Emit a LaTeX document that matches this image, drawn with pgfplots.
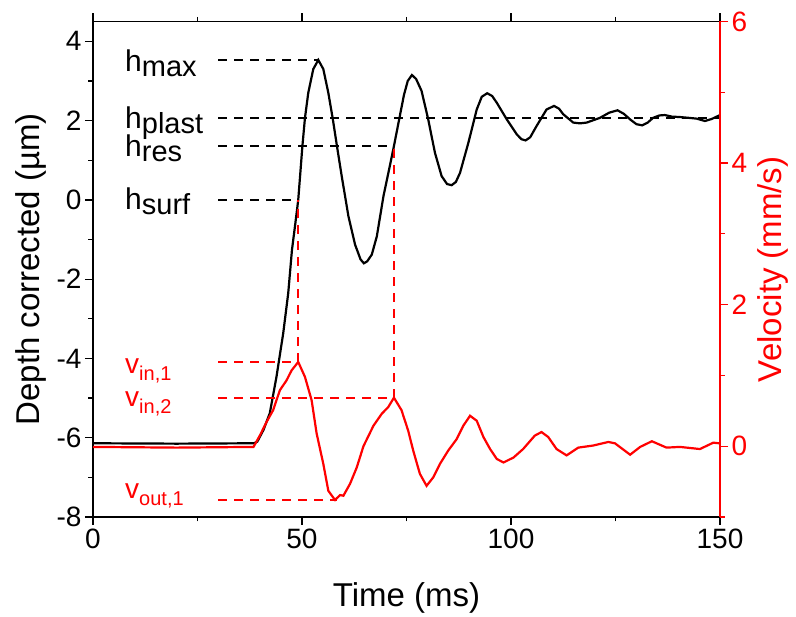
\documentclass[border=0pt]{standalone}
\usepackage{fontspec}
\setmainfont{Liberation Sans}
\usepackage{pgfplots}
\pgfplotsset{compat=1.18}

\newcommand{\hlab}[2]{\fontsize{30}{30}\selectfont h\raisebox{-5pt}{\fontsize{29}{29}\selectfont #2}}
\newcommand{\vlab}[1]{\fontsize{28}{28}\selectfont v\raisebox{-7pt}{\fontsize{20}{20}\selectfont #1}}

\pgfplotsset{
  common/.style={
    scale only axis, width=627pt, height=495.5pt,
    at={(0,0)}, anchor=south west,
    xmin=0, xmax=150,
    tick align=outside,
    major tick length=8pt, minor tick length=4.5pt,
    every tick/.style={line width=1.3pt},
    tick label style={font=\fontsize{28}{28}\selectfont},
    label style={font=\fontsize{33}{33}\selectfont},
    axis line style={line width=1.4pt},
  },
  hdash/.style={black, line width=2pt, dash pattern=on 9pt off 7pt},
  vdash/.style={red, line width=2pt, dash pattern=on 9pt off 7pt},
}

\begin{document}
\begin{tikzpicture}
\begin{axis}[common, name=ax,
  ymin=-8, ymax=4.5,
  xtick pos=both, ytick pos=left,
  xtick={0,50,100,150}, xticklabels={0,50,100,150},
  minor xtick={25,75,125},
  ytick={-8,-6,-4,-2,0,2,4}, yticklabels={-8,-6,-4,-2,0,2,4},
  minor ytick={-7,-5,-3,-1,1,3},
  xlabel={Time (ms)},
  xlabel style={at={(rel axis cs:0.5,0)}, anchor=base, yshift=-90pt},
  ylabel={Depth corrected (µm)},
  ylabel style={at={(rel axis cs:0,0.5)}, anchor=center, yshift=62pt},
]
% depth
\addplot[black, line width=2.2pt, mark=none] coordinates {
(0,-6.14) (20,-6.15) (38.5,-6.14) (39.3,-6.1) (40.8,-5.8) (42.3,-5.38) (43.9,-4.46)
(45.5,-3.37) (46.7,-2.36) (47.6,-1.26) (48.4,-0.6) (49.1,0) (50.1,1.36) (50.7,2.06)
(51.5,2.7) (52.7,3.3) (53.9,3.53) (55.1,3.3) (56.3,2.7) (57.4,2.02) (58.3,1.4)
(59.5,0.6) (61.1,-0.41) (62.7,-1.13) (64.0,-1.5) (64.8,-1.6) (65.6,-1.55) (66.7,-1.38)
(67.9,-0.92) (69.5,0.1) (71,0.85) (72,1.36) (73.3,2.06) (74.4,2.65) (75.3,3.0)
(76.3,3.15) (77.3,3.05) (78.6,2.75) (80.2,2.03) (81.8,1.19) (83.4,0.6) (84.7,0.4)
(85.8,0.37) (86.8,0.45) (87.8,0.68) (89.8,1.44) (91.8,2.28) (93,2.6) (94.3,2.69)
(95.5,2.62) (96.6,2.45) (99,2.03) (101.4,1.65) (102.5,1.53) (103.5,1.5) (104.6,1.58)
(106.1,1.86) (108.5,2.28) (110.3,2.37) (111.5,2.3) (112.5,2.16) (114.9,1.95)
(116.5,1.93) (118.1,1.95) (121.3,2.07) (123.5,2.2) (125.5,2.26) (127,2.17)
(128.5,2.03) (130,1.91) (131.4,1.88) (132.7,1.95) (134,2.07) (135.5,2.13)
(136.8,2.14) (138.5,2.1) (140.4,2.09) (142.5,2.07) (144.4,2.05) (146.4,1.99)
(148,2.04) (150,2.14)};
% reference levels
\addplot[hdash] coordinates {(30,3.53) (53.9,3.53)};
\addplot[hdash] coordinates {(30,2.06) (150,2.06)};
\addplot[hdash] coordinates {(30,1.36) (72,1.36)};
\addplot[hdash] coordinates {(30,0) (49.1,0)};
\node[anchor=base west, inner sep=0pt] at (axis cs:7.66,3.234) {\hlab{h}{max}};
\node[anchor=base west, inner sep=0pt] at (axis cs:7.66,1.806) {\hlab{h}{plast}};
\node[anchor=base west, inner sep=0pt] at (axis cs:7.66,1.089) {\hlab{h}{res}};
\node[anchor=base west, inner sep=0pt] at (axis cs:7.66,-0.255) {\hlab{h}{surf}};
\end{axis}

\begin{axis}[common,
  ymin=-1, ymax=6,
  axis x line=none, axis y line*=right,
  y axis line style={red, line width=1.4pt},
  ytick style={red},
  yticklabel style={red},
  ytick={0,2,4,6}, yticklabels={0,2,4,6},
  minor ytick={-1,1,3,5},
  ylabel={Velocity (mm/s)},
  ylabel style={red, at={(rel axis cs:1,0.5)}, anchor=center, yshift=-53pt},
]
\addplot[red, line width=2.2pt, mark=none] coordinates {
(0,-0.01) (20,-0.02) (38.4,-0.01) (40,0.16) (41.5,0.34) (43.1,0.51) (44.7,0.79)
(46.3,0.93) (47.5,1.07) (49.1,1.19) (50.7,0.98) (52.3,0.65) (53.5,0.18) (55.1,-0.25)
(56.3,-0.63) (57.9,-0.76) (59.1,-0.69) (59.9,-0.7) (61.5,-0.53) (63.1,-0.3)
(64.7,0.0) (67.1,0.29) (69.1,0.46) (70.6,0.55) (72,0.685) (73.8,0.51) (75.4,0.22)
(76.6,-0.06) (78.2,-0.39) (79.8,-0.56) (81.4,-0.44) (83,-0.25) (85,-0.06) (87,0.1)
(88.6,0.29) (90.2,0.43) (91.8,0.36) (93.4,0.13) (95,-0.04) (96.6,-0.18) (98.2,-0.23)
(100.6,-0.16) (102.9,-0.04) (105.7,0.15) (107.3,0.2) (108.9,0.13) (110.9,-0.04)
(113.3,-0.13) (116.1,-0.02) (119.7,0.01) (123.3,0.06) (124.9,0.04) (128.5,-0.12)
(130.9,-0.01) (133.7,0.07) (137.2,-0.02) (140.4,-0.01) (145.2,-0.04) (148.4,0.05)
(150,0.04)};
\addplot[vdash] coordinates {(30,1.19) (49.1,1.19)};
\addplot[vdash] coordinates {(30,0.685) (72,0.685)};
\addplot[vdash] coordinates {(30,-0.76) (58.3,-0.76)};
\addplot[vdash] coordinates {(49.1,1.19) (49.1,3.48)};
\addplot[vdash] coordinates {(72,0.685) (72,4.24)};
\node[red, anchor=base west, inner sep=0pt] at (axis cs:7.66,1.03) {\vlab{in,1}};
\node[red, anchor=base west, inner sep=0pt] at (axis cs:7.66,0.558) {\vlab{in,2}};
\node[red, anchor=base west, inner sep=0pt] at (axis cs:7.66,-0.736) {\vlab{out,1}};
\end{axis}
\pgfresetboundingbox
\path ([xshift=-93pt,yshift=-100pt]ax.south west) rectangle ([xshift=76pt,yshift=21.5pt]ax.north east);
\end{tikzpicture}
\end{document}
